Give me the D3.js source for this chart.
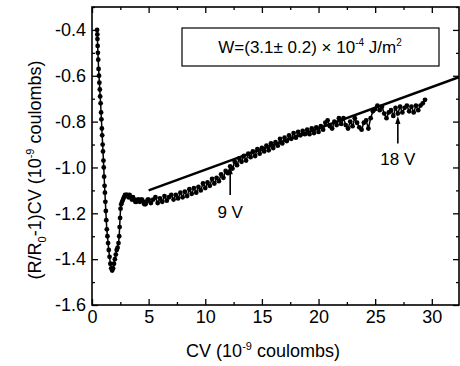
<!DOCTYPE html>
<html>
<head>
<meta charset="utf-8">
<script src="https://cdnjs.cloudflare.com/ajax/libs/d3/7.8.5/d3.min.js"></script>
<style>
  body { margin: 0; background: #fff; }
  text { font-family: "Liberation Sans", Arial, sans-serif; fill: #000; }
</style>
</head>
<body>
<div id="chart"></div>
<script>
// measured curve: CV (10^-9 C) vs (R/R0-1)CV (10^-9 C)
const cvValues = [
  0.45, 0.47, 0.48, 0.50, 0.52, 0.55, 0.58, 0.62, 0.65, 0.69, 0.72, 0.76, 0.80, 0.83, 0.87, 0.90,
  0.94, 0.97, 1.01, 1.04, 1.07, 1.11, 1.14, 1.18, 1.22, 1.26, 1.31, 1.36, 1.42, 1.48, 1.55, 1.62,
  1.70, 1.78, 1.86, 1.94, 2.02, 2.10, 2.18, 2.26, 2.34, 2.40, 2.44, 2.48, 2.52, 2.58, 2.66, 2.74,
  2.82, 2.92, 3.02, 3.12, 3.22, 3.32, 3.42, 3.52, 3.62, 3.72, 3.82, 3.92, 4.02, 4.12, 4.22, 4.32,
  4.42, 4.52, 4.62, 4.72, 4.82, 4.92,
  5.0, 5.2, 5.4, 5.6, 5.8, 6.0, 6.2, 6.4, 6.6, 6.8, 7.0, 7.2, 7.4, 7.6, 7.8, 8.0,
  8.2, 8.4, 8.6, 8.8, 9.0, 9.2, 9.4, 9.6, 9.8, 10.0, 10.2, 10.4, 10.6, 10.8, 11.0, 11.2,
  11.4, 11.6, 11.8, 12.0, 12.2, 12.4, 12.6, 12.8, 13.0, 13.2, 13.4, 13.6, 13.8, 14.0, 14.2, 14.4,
  14.6, 14.8, 15.0, 15.2, 15.4, 15.6, 15.8, 16.0, 16.2, 16.4, 16.6, 16.8, 17.0, 17.2, 17.4, 17.6,
  17.8, 18.0, 18.2, 18.4, 18.6, 18.8, 19.0, 19.2, 19.4, 19.6, 19.8, 20.0, 20.2, 20.4, 20.6, 20.8,
  21.0, 21.2, 21.4, 21.6, 21.8, 22.0, 22.2, 22.4, 22.6, 22.8, 23.0, 23.2, 23.4, 23.6, 23.8, 24.0,
  24.2, 24.4, 24.6, 24.8, 25.0, 25.2, 25.4, 25.6, 25.8, 26.0, 26.2, 26.4, 26.6, 26.8, 27.0, 27.2,
  27.4, 27.6, 27.8, 28.0, 28.2, 28.4, 28.6, 28.8, 29.0, 29.2, 29.4
];
const signalValues = [
  -0.40, -0.42, -0.44, -0.47, -0.50, -0.53, -0.57, -0.60, -0.63, -0.66, -0.69, -0.72, -0.76, -0.79, -0.83, -0.86,
  -0.90, -0.93, -0.97, -1.00, -1.04, -1.08, -1.11, -1.15, -1.19, -1.23, -1.27, -1.30, -1.33, -1.36, -1.39, -1.42,
  -1.44, -1.45, -1.44, -1.42, -1.40, -1.38, -1.36, -1.35, -1.33, -1.30, -1.26, -1.22, -1.18, -1.16, -1.15, -1.14,
  -1.13, -1.12, -1.12, -1.12, -1.13, -1.12, -1.13, -1.14, -1.13, -1.14, -1.15, -1.15, -1.14, -1.14, -1.15, -1.14,
  -1.14, -1.15, -1.16, -1.16, -1.15, -1.14,
  -1.140, -1.155, -1.140, -1.130, -1.155, -1.135, -1.150, -1.125, -1.145, -1.130, -1.120, -1.140, -1.120, -1.135, -1.110, -1.130,
  -1.105, -1.125, -1.095, -1.115, -1.090, -1.110, -1.085, -1.100, -1.070, -1.090, -1.065, -1.080, -1.050, -1.070, -1.045, -1.060,
  -1.030, -1.045, -1.015, -1.025, -0.995, -1.005, -0.975, -0.990, -0.960, -0.975, -0.950, -0.970, -0.940, -0.955, -0.930, -0.950,
  -0.920, -0.940, -0.915, -0.930, -0.905, -0.925, -0.895, -0.915, -0.890, -0.905, -0.875, -0.895, -0.870, -0.885, -0.860, -0.875,
  -0.850, -0.870, -0.845, -0.860, -0.840, -0.855, -0.835, -0.855, -0.830, -0.850, -0.825, -0.845, -0.820, -0.835, -0.805, -0.795,
  -0.820, -0.830, -0.800, -0.815, -0.785, -0.810, -0.785, -0.815, -0.830, -0.800, -0.820, -0.785, -0.805, -0.825, -0.835, -0.805,
  -0.795, -0.830, -0.785, -0.755, -0.745, -0.730, -0.750, -0.735, -0.765, -0.785, -0.760, -0.750, -0.775, -0.740, -0.765, -0.735,
  -0.760, -0.740, -0.730, -0.755, -0.735, -0.760, -0.730, -0.750, -0.730, -0.720, -0.705
];

// straight fit line (two end points)
const fitCv = [5.0, 33.0];
const fitSignal = [-1.10, -0.595];

// voltage arrows
const arrowLabels = ['9 V', '18 V'];
const arrowCv = [12.2, 27.0];
const arrowTip = [-0.995, -0.775];
const arrowTail = [-1.12, -0.895];
const arrowLabelY = [-1.195, -0.965];

const xTicks = [0, 5, 10, 15, 20, 25, 30];
const xMinor = [2.5, 7.5, 12.5, 17.5, 22.5, 27.5, 32.5];
const yTicks = [-1.6, -1.4, -1.2, -1.0, -0.8, -0.6, -0.4];
const yMinor = [-1.5, -1.3, -1.1, -0.9, -0.7, -0.5, -0.3];

const width = 460, height = 366;
const margin = { top: 7, right: 1, bottom: 61, left: 92 };
const w = width - margin.left - margin.right;
const h = height - margin.top - margin.bottom;

const svg = d3.select('#chart').append('svg')
  .attr('width', width).attr('height', height);
const g = svg.append('g').attr('transform', `translate(${margin.left},${margin.top})`);

const x = d3.scaleLinear().domain([0, 32.4]).range([0, w]);
const y = d3.scaleLinear().domain([-1.6, -0.3]).range([h, 0]);

svg.append('defs').append('clipPath').attr('id', 'clip')
  .append('rect').attr('width', w).attr('height', h);

const fmt = d => d.toFixed(1);

function styleAxis(sel) {
  sel.select('.domain').remove();
  sel.selectAll('line').attr('stroke', '#000').attr('stroke-width', 1.3);
  sel.selectAll('text').style('font-size', '18px').attr('fill', '#000');
}

// bottom axis
g.append('g').attr('transform', `translate(0,${h})`)
  .call(d3.axisBottom(x).tickValues(xTicks).tickSize(-6).tickPadding(5).tickFormat(d3.format('d')))
  .call(styleAxis);
g.append('g').attr('transform', `translate(0,${h})`)
  .call(d3.axisBottom(x).tickValues(xMinor).tickSize(-3).tickFormat(''))
  .call(styleAxis);
// top axis
g.append('g')
  .call(d3.axisTop(x).tickValues(xTicks).tickSize(-6).tickFormat(''))
  .call(styleAxis);
g.append('g')
  .call(d3.axisTop(x).tickValues(xMinor).tickSize(-3).tickFormat(''))
  .call(styleAxis);
// left axis
g.append('g')
  .call(d3.axisLeft(y).tickValues(yTicks).tickSize(-6).tickPadding(6).tickFormat(fmt))
  .call(styleAxis);
g.append('g')
  .call(d3.axisLeft(y).tickValues(yMinor).tickSize(-3).tickFormat(''))
  .call(styleAxis);
// right axis
g.append('g').attr('transform', `translate(${w},0)`)
  .call(d3.axisRight(y).tickValues(yTicks).tickSize(-6).tickFormat(''))
  .call(styleAxis);
g.append('g').attr('transform', `translate(${w},0)`)
  .call(d3.axisRight(y).tickValues(yMinor).tickSize(-3).tickFormat(''))
  .call(styleAxis);

// frame
g.append('rect').attr('width', w).attr('height', h)
  .attr('fill', 'none').attr('stroke', '#000').attr('stroke-width', 1.6);

const plot = g.append('g').attr('clip-path', 'url(#clip)');

const points = cvValues.map((c, i) => [c, signalValues[i]]);

plot.append('path')
  .datum(points)
  .attr('fill', 'none').attr('stroke', '#000').attr('stroke-width', 1.5)
  .attr('d', d3.line().x(d => x(d[0])).y(d => y(d[1])));

plot.selectAll('circle.pt').data(points).enter()
  .append('circle').attr('class', 'pt')
  .attr('cx', d => x(d[0])).attr('cy', d => y(d[1]))
  .attr('r', 2.4).attr('fill', '#000');

// fit line
plot.append('line')
  .attr('x1', x(fitCv[0])).attr('y1', y(fitSignal[0]))
  .attr('x2', x(fitCv[1])).attr('y2', y(fitSignal[1]))
  .attr('stroke', '#000').attr('stroke-width', 2.4);

// arrows
arrowCv.forEach((c, i) => {
  const ax = x(c), yt = y(arrowTip[i]), yb = y(arrowTail[i]);
  g.append('line')
    .attr('x1', ax).attr('x2', ax).attr('y1', yt + 5).attr('y2', yb)
    .attr('stroke', '#000').attr('stroke-width', 1.6);
  g.append('path')
    .attr('d', `M${ax},${yt} L${ax - 2.6},${yt + 8} L${ax + 2.6},${yt + 8} Z`)
    .attr('fill', '#000');
  g.append('text')
    .attr('x', ax).attr('y', y(arrowLabelY[i]))
    .attr('text-anchor', 'middle').attr('dy', '0.35em')
    .style('font-size', '17px')
    .text(arrowLabels[i]);
});

// annotation box
g.append('rect')
  .attr('x', 90).attr('y', 21).attr('width', 257).attr('height', 38)
  .attr('fill', '#fff').attr('stroke', '#000').attr('stroke-width', 1.2);
const ann = g.append('text')
  .attr('x', 218).attr('y', 46).attr('text-anchor', 'middle')
  .style('font-size', '17px');
ann.append('tspan').text('W=(3.1\u00b1 0.2) \u00d7 10');
ann.append('tspan').attr('dy', -7).style('font-size', '10px').text('-4');
ann.append('tspan').attr('dy', 7).text(' J/m');
ann.append('tspan').attr('dy', -7).style('font-size', '10px').text('2');

// x title
const xt = svg.append('text')
  .attr('x', margin.left + x(15.1)).attr('y', 357)
  .attr('text-anchor', 'middle').style('font-size', '18px');
xt.append('tspan').text('CV (10');
xt.append('tspan').attr('dy', -7).style('font-size', '11px').text('-9');
xt.append('tspan').attr('dy', 7).text(' coulombs)');

// y title
const yt = svg.append('text')
  .attr('transform', `translate(41,${margin.top + h / 2 + 14}) rotate(-90)`)
  .attr('text-anchor', 'middle').style('font-size', '18px');
yt.append('tspan').text('(R/R');
yt.append('tspan').attr('dy', 5).style('font-size', '11px').text('0');
yt.append('tspan').attr('dy', -5).text('-1)CV (10');
yt.append('tspan').attr('dy', -7).style('font-size', '11px').text('-9');
yt.append('tspan').attr('dy', 7).text(' coulombs)');
</script>
</body>
</html>
